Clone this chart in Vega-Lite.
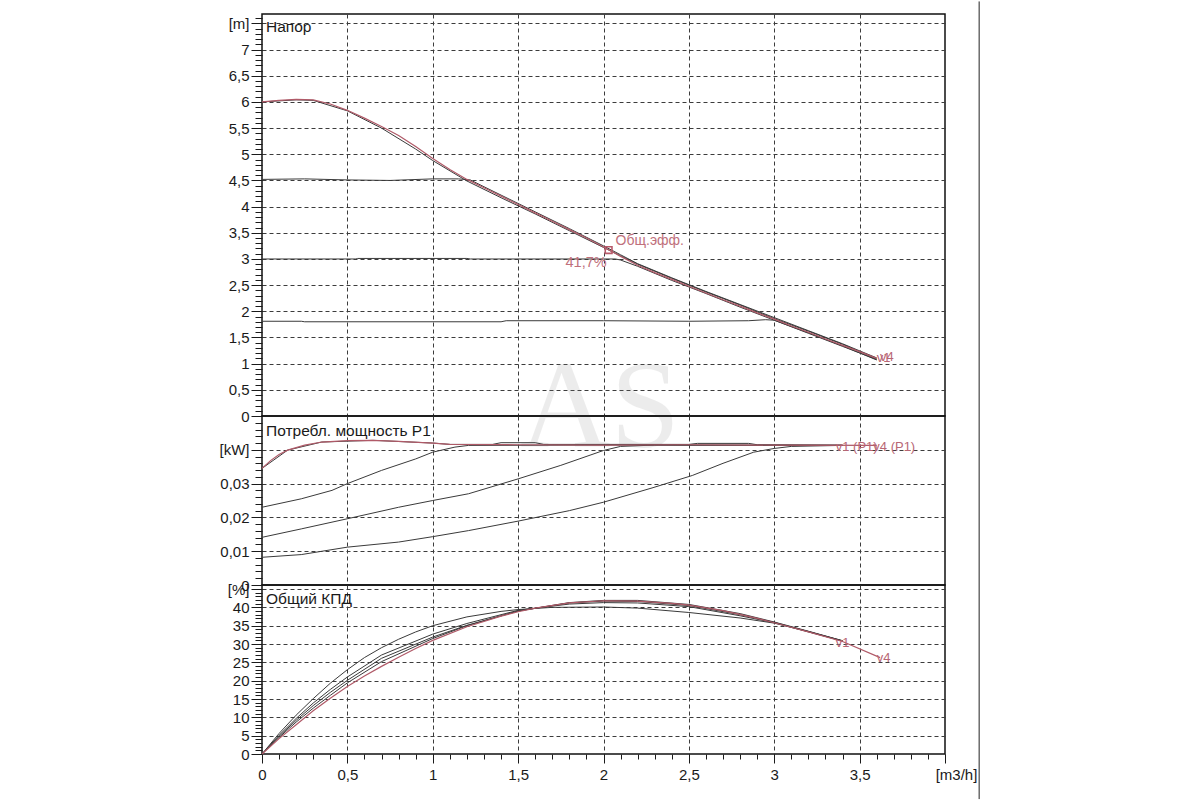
{
  "$schema": "https://vega.github.io/schema/vega-lite/v6.json",
  "padding": {"left": 218, "top": 0, "right": 5, "bottom": 0},
  "background": "white",
  "config": {
    "view": {"stroke": "#111", "strokeWidth": 1.5},
    "axis": {
      "labelFont": "Liberation Sans",
      "labelFontSize": 15,
      "labelColor": "#1a1a1a",
      "tickColor": "#1a1a1a",
      "tickWidth": 1,
      "domain": false,
      "labelOverlap": false,
      "labelFlush": false,
      "gridColor": "#3c3c3c",
      "gridDash": [4, 3],
      "gridWidth": 1
    },
    "text": {"font": "Liberation Sans"}
  },
  "datasets": {
    "head": [
      {"s": "v4", "q": 0, "v": 6.0}, {"s": "v4", "q": 0.1, "v": 6.03}, {"s": "v4", "q": 0.2, "v": 6.05}, {"s": "v4", "q": 0.3, "v": 6.04},
      {"s": "v4", "q": 0.4, "v": 5.96}, {"s": "v4", "q": 0.5, "v": 5.84}, {"s": "v4", "q": 0.6, "v": 5.69}, {"s": "v4", "q": 0.7, "v": 5.53},
      {"s": "v4", "q": 0.8, "v": 5.36}, {"s": "v4", "q": 0.9, "v": 5.15}, {"s": "v4", "q": 1.0, "v": 4.92}, {"s": "v4", "q": 1.1, "v": 4.71},
      {"s": "v4", "q": 1.2, "v": 4.52}, {"s": "v4", "q": 1.3, "v": 4.36}, {"s": "v4", "q": 1.4, "v": 4.2}, {"s": "v4", "q": 1.5, "v": 4.04},
      {"s": "v4", "q": 1.6, "v": 3.88}, {"s": "v4", "q": 1.7, "v": 3.72}, {"s": "v4", "q": 1.8, "v": 3.56}, {"s": "v4", "q": 1.9, "v": 3.4},
      {"s": "v4", "q": 2.0, "v": 3.23}, {"s": "v4", "q": 2.1, "v": 3.05}, {"s": "v4", "q": 2.2, "v": 2.88}, {"s": "v4", "q": 2.3, "v": 2.74},
      {"s": "v4", "q": 2.4, "v": 2.61}, {"s": "v4", "q": 2.5, "v": 2.48}, {"s": "v4", "q": 2.6, "v": 2.35}, {"s": "v4", "q": 2.7, "v": 2.22},
      {"s": "v4", "q": 2.8, "v": 2.1}, {"s": "v4", "q": 2.9, "v": 1.97}, {"s": "v4", "q": 3.0, "v": 1.85}, {"s": "v4", "q": 3.1, "v": 1.72},
      {"s": "v4", "q": 3.2, "v": 1.6}, {"s": "v4", "q": 3.3, "v": 1.47}, {"s": "v4", "q": 3.4, "v": 1.35}, {"s": "v4", "q": 3.5, "v": 1.23},
      {"s": "v4", "q": 3.6, "v": 1.1},
      {"s": "v1", "q": 0, "v": 6.0}, {"s": "v1", "q": 0.2, "v": 6.04}, {"s": "v1", "q": 0.3, "v": 6.03}, {"s": "v1", "q": 0.5, "v": 5.83},
      {"s": "v1", "q": 0.7, "v": 5.5}, {"s": "v1", "q": 0.9, "v": 5.1}, {"s": "v1", "q": 1.0, "v": 4.88}, {"s": "v1", "q": 1.2, "v": 4.49},
      {"s": "v1", "q": 1.4, "v": 4.17}, {"s": "v1", "q": 1.6, "v": 3.86}, {"s": "v1", "q": 1.8, "v": 3.54}, {"s": "v1", "q": 2.0, "v": 3.22},
      {"s": "v1", "q": 2.1, "v": 3.06}, {"s": "v1", "q": 2.2, "v": 2.9}, {"s": "v1", "q": 2.4, "v": 2.63}, {"s": "v1", "q": 2.6, "v": 2.37},
      {"s": "v1", "q": 2.8, "v": 2.12}, {"s": "v1", "q": 3.0, "v": 1.86}, {"s": "v1", "q": 3.2, "v": 1.62}, {"s": "v1", "q": 3.4, "v": 1.37},
      {"s": "v1", "q": 3.6, "v": 1.09},
      {"s": "c45", "q": 0, "v": 4.52}, {"s": "c45", "q": 0.25, "v": 4.53}, {"s": "c45", "q": 0.5, "v": 4.51}, {"s": "c45", "q": 0.75, "v": 4.5},
      {"s": "c45", "q": 1.0, "v": 4.53}, {"s": "c45", "q": 1.15, "v": 4.53}, {"s": "c45", "q": 1.22, "v": 4.51}, {"s": "c45", "q": 1.3, "v": 4.38},
      {"s": "c45", "q": 1.4, "v": 4.22}, {"s": "c45", "q": 1.5, "v": 4.06}, {"s": "c45", "q": 1.6, "v": 3.9}, {"s": "c45", "q": 1.8, "v": 3.58},
      {"s": "c45", "q": 2.0, "v": 3.25}, {"s": "c45", "q": 2.1, "v": 3.08}, {"s": "c45", "q": 2.2, "v": 2.91}, {"s": "c45", "q": 2.4, "v": 2.64},
      {"s": "c45", "q": 2.6, "v": 2.38}, {"s": "c45", "q": 2.8, "v": 2.13}, {"s": "c45", "q": 3.0, "v": 1.88}, {"s": "c45", "q": 3.2, "v": 1.63},
      {"s": "c45", "q": 3.4, "v": 1.38}, {"s": "c45", "q": 3.6, "v": 1.11},
      {"s": "c30", "q": 0, "v": 3.0}, {"s": "c30", "q": 0.55, "v": 3.0}, {"s": "c30", "q": 0.56, "v": 3.01}, {"s": "c30", "q": 1.2, "v": 3.01},
      {"s": "c30", "q": 1.22, "v": 3.0}, {"s": "c30", "q": 1.8, "v": 3.0}, {"s": "c30", "q": 2.07, "v": 3.0}, {"s": "c30", "q": 2.1, "v": 2.98},
      {"s": "c30", "q": 2.2, "v": 2.86}, {"s": "c30", "q": 2.4, "v": 2.59}, {"s": "c30", "q": 2.6, "v": 2.34}, {"s": "c30", "q": 2.8, "v": 2.08},
      {"s": "c30", "q": 3.0, "v": 1.83}, {"s": "c30", "q": 3.2, "v": 1.58}, {"s": "c30", "q": 3.4, "v": 1.33}, {"s": "c30", "q": 3.6, "v": 1.08},
      {"s": "c18", "q": 0, "v": 1.81}, {"s": "c18", "q": 0.23, "v": 1.81}, {"s": "c18", "q": 0.25, "v": 1.8}, {"s": "c18", "q": 1.4, "v": 1.8},
      {"s": "c18", "q": 1.43, "v": 1.82}, {"s": "c18", "q": 2.0, "v": 1.82}, {"s": "c18", "q": 2.5, "v": 1.81}, {"s": "c18", "q": 2.85, "v": 1.82},
      {"s": "c18", "q": 2.95, "v": 1.84}, {"s": "c18", "q": 3.0, "v": 1.83}, {"s": "c18", "q": 3.2, "v": 1.59}, {"s": "c18", "q": 3.4, "v": 1.34},
      {"s": "c18", "q": 3.6, "v": 1.07}
    ],
    "power": [
      {"s": "v4", "q": 0, "v": 0.0345}, {"s": "v4", "q": 0.05, "v": 0.0368}, {"s": "v4", "q": 0.1, "v": 0.0386}, {"s": "v4", "q": 0.15, "v": 0.0399},
      {"s": "v4", "q": 0.25, "v": 0.0414}, {"s": "v4", "q": 0.35, "v": 0.0423}, {"s": "v4", "q": 0.5, "v": 0.0427}, {"s": "v4", "q": 0.65, "v": 0.0428},
      {"s": "v4", "q": 0.8, "v": 0.0425}, {"s": "v4", "q": 1.0, "v": 0.042}, {"s": "v4", "q": 1.1, "v": 0.0416}, {"s": "v4", "q": 1.5, "v": 0.0415},
      {"s": "v4", "q": 2.0, "v": 0.0414}, {"s": "v4", "q": 2.5, "v": 0.0415}, {"s": "v4", "q": 3.0, "v": 0.0414}, {"s": "v4", "q": 3.6, "v": 0.0413},
      {"s": "v1", "q": 0, "v": 0.0345}, {"s": "v1", "q": 0.15, "v": 0.0399}, {"s": "v1", "q": 0.35, "v": 0.0423}, {"s": "v1", "q": 0.65, "v": 0.0428},
      {"s": "v1", "q": 1.0, "v": 0.042}, {"s": "v1", "q": 1.1, "v": 0.0416}, {"s": "v1", "q": 1.35, "v": 0.0416}, {"s": "v1", "q": 1.4, "v": 0.0421},
      {"s": "v1", "q": 1.6, "v": 0.0421}, {"s": "v1", "q": 1.65, "v": 0.0416}, {"s": "v1", "q": 2.5, "v": 0.0416}, {"s": "v1", "q": 2.55, "v": 0.0419},
      {"s": "v1", "q": 2.85, "v": 0.0419}, {"s": "v1", "q": 2.9, "v": 0.0415}, {"s": "v1", "q": 3.4, "v": 0.0414},
      {"s": "c45", "q": 0, "v": 0.023}, {"s": "c45", "q": 0.23, "v": 0.0255}, {"s": "c45", "q": 0.41, "v": 0.028}, {"s": "c45", "q": 0.5, "v": 0.03},
      {"s": "c45", "q": 0.7, "v": 0.0339}, {"s": "c45", "q": 0.9, "v": 0.0373}, {"s": "c45", "q": 1.0, "v": 0.0393}, {"s": "c45", "q": 1.13, "v": 0.0408},
      {"s": "c45", "q": 1.21, "v": 0.0413}, {"s": "c45", "q": 2.0, "v": 0.0414}, {"s": "c45", "q": 3.4, "v": 0.0413},
      {"s": "c30", "q": 0, "v": 0.0141}, {"s": "c30", "q": 0.23, "v": 0.0166}, {"s": "c30", "q": 0.5, "v": 0.0196}, {"s": "c30", "q": 0.8, "v": 0.023},
      {"s": "c30", "q": 1.0, "v": 0.025}, {"s": "c30", "q": 1.21, "v": 0.027}, {"s": "c30", "q": 1.5, "v": 0.0314}, {"s": "c30", "q": 1.75, "v": 0.0354},
      {"s": "c30", "q": 2.0, "v": 0.0398}, {"s": "c30", "q": 2.1, "v": 0.041}, {"s": "c30", "q": 2.3, "v": 0.0414}, {"s": "c30", "q": 3.4, "v": 0.0413},
      {"s": "c18", "q": 0, "v": 0.0082}, {"s": "c18", "q": 0.23, "v": 0.009}, {"s": "c18", "q": 0.5, "v": 0.0112}, {"s": "c18", "q": 0.8, "v": 0.0127},
      {"s": "c18", "q": 1.0, "v": 0.0143}, {"s": "c18", "q": 1.21, "v": 0.0161}, {"s": "c18", "q": 1.5, "v": 0.0189}, {"s": "c18", "q": 1.8, "v": 0.022},
      {"s": "c18", "q": 2.0, "v": 0.0245}, {"s": "c18", "q": 2.29, "v": 0.0288}, {"s": "c18", "q": 2.52, "v": 0.0324}, {"s": "c18", "q": 2.7, "v": 0.036},
      {"s": "c18", "q": 2.88, "v": 0.0393}, {"s": "c18", "q": 3.0, "v": 0.0404}, {"s": "c18", "q": 3.1, "v": 0.041}, {"s": "c18", "q": 3.4, "v": 0.0413}
    ],
    "eff": [
      {"s": "v4", "q": 0, "v": 0}, {"s": "v4", "q": 0.1, "v": 4.2}, {"s": "v4", "q": 0.2, "v": 8.0}, {"s": "v4", "q": 0.3, "v": 11.8},
      {"s": "v4", "q": 0.4, "v": 15.2}, {"s": "v4", "q": 0.5, "v": 18.4}, {"s": "v4", "q": 0.6, "v": 21.3}, {"s": "v4", "q": 0.7, "v": 23.9},
      {"s": "v4", "q": 0.8, "v": 26.4}, {"s": "v4", "q": 0.9, "v": 28.8}, {"s": "v4", "q": 1.0, "v": 31.0}, {"s": "v4", "q": 1.2, "v": 34.7},
      {"s": "v4", "q": 1.4, "v": 37.6}, {"s": "v4", "q": 1.5, "v": 38.8}, {"s": "v4", "q": 1.6, "v": 39.8}, {"s": "v4", "q": 1.8, "v": 41.2},
      {"s": "v4", "q": 2.0, "v": 41.8}, {"s": "v4", "q": 2.2, "v": 41.7}, {"s": "v4", "q": 2.4, "v": 41.1}, {"s": "v4", "q": 2.5, "v": 40.6},
      {"s": "v4", "q": 2.7, "v": 39.1}, {"s": "v4", "q": 2.9, "v": 37.0}, {"s": "v4", "q": 3.0, "v": 35.8}, {"s": "v4", "q": 3.2, "v": 33.3},
      {"s": "v4", "q": 3.4, "v": 30.7}, {"s": "v4", "q": 3.62, "v": 26.3},
      {"s": "v1", "q": 0, "v": 0}, {"s": "v1", "q": 0.1, "v": 4.5}, {"s": "v1", "q": 0.2, "v": 8.7}, {"s": "v1", "q": 0.3, "v": 12.5},
      {"s": "v1", "q": 0.4, "v": 16.0}, {"s": "v1", "q": 0.5, "v": 19.4}, {"s": "v1", "q": 0.7, "v": 25.2}, {"s": "v1", "q": 1.0, "v": 31.5},
      {"s": "v1", "q": 1.2, "v": 35.0}, {"s": "v1", "q": 1.5, "v": 39.0}, {"s": "v1", "q": 1.8, "v": 41.3}, {"s": "v1", "q": 2.0, "v": 41.9},
      {"s": "v1", "q": 2.2, "v": 41.9}, {"s": "v1", "q": 2.5, "v": 40.8}, {"s": "v1", "q": 2.8, "v": 38.3}, {"s": "v1", "q": 3.0, "v": 36.0},
      {"s": "v1", "q": 3.2, "v": 33.5}, {"s": "v1", "q": 3.4, "v": 30.9},
      {"s": "c45", "q": 0, "v": 0}, {"s": "c45", "q": 0.1, "v": 4.8}, {"s": "c45", "q": 0.2, "v": 9.2}, {"s": "c45", "q": 0.3, "v": 13.2},
      {"s": "c45", "q": 0.4, "v": 16.8}, {"s": "c45", "q": 0.5, "v": 20.1}, {"s": "c45", "q": 0.7, "v": 26.1}, {"s": "c45", "q": 1.0, "v": 31.9},
      {"s": "c45", "q": 1.2, "v": 35.1}, {"s": "c45", "q": 1.5, "v": 39.0}, {"s": "c45", "q": 1.8, "v": 41.2}, {"s": "c45", "q": 2.0, "v": 41.7},
      {"s": "c45", "q": 2.2, "v": 41.6}, {"s": "c45", "q": 2.5, "v": 40.5}, {"s": "c45", "q": 2.8, "v": 38.0}, {"s": "c45", "q": 3.0, "v": 35.9},
      {"s": "c45", "q": 3.4, "v": 30.9},
      {"s": "c30", "q": 0, "v": 0}, {"s": "c30", "q": 0.1, "v": 5.1}, {"s": "c30", "q": 0.2, "v": 9.7}, {"s": "c30", "q": 0.3, "v": 13.9},
      {"s": "c30", "q": 0.4, "v": 17.6}, {"s": "c30", "q": 0.5, "v": 21.0}, {"s": "c30", "q": 0.7, "v": 27.0}, {"s": "c30", "q": 1.0, "v": 32.7},
      {"s": "c30", "q": 1.2, "v": 35.6}, {"s": "c30", "q": 1.5, "v": 39.2}, {"s": "c30", "q": 1.8, "v": 40.9}, {"s": "c30", "q": 2.0, "v": 41.3},
      {"s": "c30", "q": 2.2, "v": 41.2}, {"s": "c30", "q": 2.5, "v": 40.2}, {"s": "c30", "q": 2.8, "v": 37.7}, {"s": "c30", "q": 3.0, "v": 35.8},
      {"s": "c30", "q": 3.4, "v": 30.8},
      {"s": "c18", "q": 0, "v": 0}, {"s": "c18", "q": 0.1, "v": 5.6}, {"s": "c18", "q": 0.2, "v": 10.6}, {"s": "c18", "q": 0.3, "v": 15.1},
      {"s": "c18", "q": 0.4, "v": 19.3}, {"s": "c18", "q": 0.5, "v": 23.0}, {"s": "c18", "q": 0.6, "v": 26.3}, {"s": "c18", "q": 0.7, "v": 29.0},
      {"s": "c18", "q": 0.8, "v": 31.3}, {"s": "c18", "q": 0.9, "v": 33.3}, {"s": "c18", "q": 1.0, "v": 35.0}, {"s": "c18", "q": 1.2, "v": 37.4},
      {"s": "c18", "q": 1.4, "v": 38.9}, {"s": "c18", "q": 1.5, "v": 39.4}, {"s": "c18", "q": 1.7, "v": 40.0}, {"s": "c18", "q": 2.0, "v": 40.1},
      {"s": "c18", "q": 2.2, "v": 39.8}, {"s": "c18", "q": 2.5, "v": 38.6}, {"s": "c18", "q": 2.8, "v": 37.1}, {"s": "c18", "q": 3.0, "v": 35.7},
      {"s": "c18", "q": 3.2, "v": 33.4}, {"s": "c18", "q": 3.4, "v": 30.8}
    ],
    "labels": [
      {"p": "H", "q": 3.6, "v": 1.1, "t": "v1"},
      {"p": "H", "q": 3.62, "v": 1.12, "t": "v4"},
      {"p": "P", "q": 3.36, "v": 0.0409, "t": "v1 (P1)"},
      {"p": "P", "q": 3.58, "v": 0.0409, "t": "v4 (P1)"},
      {"p": "E", "q": 3.36, "v": 30.4, "t": "v1"},
      {"p": "E", "q": 3.6, "v": 26.3, "t": "v4"}
    ]
  },
  "vconcat": [
    {
      "width": 683,
      "height": 402,
      "resolve": {"axis": {"x": "independent", "y": "independent"}},
      "layer": [
        {
          "data": {"values": [{}]},
          "mark": {"type": "text", "text": "AS", "font": "Liberation Serif", "fontSize": 125, "color": "#888", "opacity": 0.15, "align": "center", "baseline": "alphabetic"},
          "encoding": {
            "x": {"datum": 1.98, "type": "quantitative", "scale": {"domain": [0, 4], "nice": false, "zero": false}, "axis": null},
            "y": {"datum": -0.6, "type": "quantitative", "scale": {"domain": [0, 7.68], "nice": false, "zero": false}, "axis": null}
          }
        },
        {
          "data": {"values": [{}]},
          "mark": {"type": "text", "text": "Напор", "align": "left", "baseline": "middle", "dx": 4, "dy": 13, "fontSize": 15.5, "color": "#1a1a1a"},
          "encoding": {
            "x": {"datum": 0, "type": "quantitative", "scale": {"domain": [0, 4], "nice": false, "zero": false}, "axis": null},
            "y": {"datum": 7.68, "type": "quantitative", "scale": {"domain": [0, 7.68], "nice": false, "zero": false},
              "axis": {"orient": "left", "title": null, "labels": false, "grid": false, "tickSize": 7,
                "values": [0,0.1,0.2,0.3,0.4,0.5,0.6,0.7,0.8,0.9,1,1.1,1.2,1.3,1.4,1.5,1.6,1.7,1.8,1.9,2,2.1,2.2,2.3,2.4,2.5,2.6,2.7,2.8,2.9,3,3.1,3.2,3.3,3.4,3.5,3.6,3.7,3.8,3.9,4,4.1,4.2,4.3,4.4,4.5,4.6,4.7,4.8,4.9,5,5.1,5.2,5.3,5.4,5.5,5.6,5.7,5.8,5.9,6,6.1,6.2,6.3,6.4,6.5,6.6,6.7,6.8,6.9,7,7.1,7.2,7.3,7.4,7.5,7.6]}}
          }
        },
        {
          "data": {"name": "head"},
          "transform": [{"filter": "datum.s != 'v4'"}],
          "mark": {"type": "line", "color": "#3a3a3a", "strokeWidth": 1},
          "encoding": {
            "x": {"field": "q", "type": "quantitative", "scale": {"domain": [0, 4], "nice": false, "zero": false},
              "axis": {"orient": "bottom", "title": null, "labels": false, "ticks": false, "grid": true, "values": [0.5, 1, 1.5, 2, 2.5, 3, 3.5]}},
            "y": {"field": "v", "type": "quantitative", "scale": {"domain": [0, 7.68], "nice": false, "zero": false},
              "axis": {"orient": "left", "title": null, "tickSize": 11, "labelPadding": 2, "grid": true,
                "gridOpacity": {"condition": {"test": "datum.value == 0", "value": 0}, "value": 1},
                "values": [0, 0.5, 1, 1.5, 2, 2.5, 3, 3.5, 4, 4.5, 5, 5.5, 6, 6.5, 7, 7.5],
                "labelExpr": "datum.value == 7.5 ? '[m]' : replace(format(datum.value, '.1~f'), '.', ',')"}},
            "detail": {"field": "s"}
          }
        },
        {
          "data": {"name": "head"},
          "transform": [{"filter": "datum.s == 'v4'"}],
          "mark": {"type": "line", "color": "#b05a68", "strokeWidth": 1.2},
          "encoding": {
            "x": {"field": "q", "type": "quantitative", "scale": {"domain": [0, 4], "nice": false, "zero": false}, "axis": null},
            "y": {"field": "v", "type": "quantitative", "scale": {"domain": [0, 7.68], "nice": false, "zero": false}, "axis": null}
          }
        },
        {
          "data": {"values": [{"q": 2.03, "v": 3.17}]},
          "layer": [
            {"mark": {"type": "point", "shape": "square", "filled": false, "size": 45, "color": "#b85a6a", "strokeWidth": 1.6, "opacity": 1}},
            {"mark": {"type": "text", "text": "Общ.эфф.", "align": "left", "baseline": "middle", "dx": 7, "dy": -9, "fontSize": 14, "color": "#c0707c"}},
            {"mark": {"type": "text", "text": "41,7%", "align": "right", "baseline": "middle", "dx": -2, "dy": 13, "fontSize": 14.5, "color": "#c0707c"}}
          ],
          "encoding": {
            "x": {"field": "q", "type": "quantitative", "scale": {"domain": [0, 4], "nice": false, "zero": false}, "axis": null},
            "y": {"field": "v", "type": "quantitative", "scale": {"domain": [0, 7.68], "nice": false, "zero": false}, "axis": null}
          }
        },
        {
          "data": {"name": "labels"},
          "transform": [{"filter": "datum.p == 'H'"}],
          "mark": {"type": "text", "align": "left", "baseline": "middle", "fontSize": 13, "color": "#b86674"},
          "encoding": {
            "x": {"field": "q", "type": "quantitative", "scale": {"domain": [0, 4], "nice": false, "zero": false}, "axis": null},
            "y": {"field": "v", "type": "quantitative", "scale": {"domain": [0, 7.68], "nice": false, "zero": false}, "axis": null},
            "text": {"field": "t"}
          }
        },
        {
          "data": {"values": [{}]},
          "mark": {"type": "rule", "color": "#222", "strokeWidth": 1},
          "encoding": {
            "x": {"datum": 4.2, "type": "quantitative", "scale": {"domain": [0, 4], "nice": false, "zero": false}, "axis": null},
            "y": {"datum": 7.92, "type": "quantitative", "scale": {"domain": [0, 7.68], "nice": false, "zero": false}, "axis": null},
            "y2": {"datum": 0}
          }
        }
      ]
    },
    {
      "width": 683,
      "height": 169,
      "resolve": {"axis": {"x": "independent", "y": "independent"}},
      "layer": [
        {
          "data": {"values": [{}]},
          "mark": {"type": "text", "text": "Потребл. мощность P1", "align": "left", "baseline": "middle", "dx": 4, "dy": 15, "fontSize": 15.5, "color": "#1a1a1a"},
          "encoding": {
            "x": {"datum": 0, "type": "quantitative", "scale": {"domain": [0, 4], "nice": false, "zero": false}, "axis": null},
            "y": {"datum": 0.05, "type": "quantitative", "scale": {"domain": [0, 0.05], "nice": false, "zero": false},
              "axis": {"orient": "left", "title": null, "labels": false, "grid": false, "tickSize": 7,
                "values": [0,0.002,0.004,0.006,0.008,0.01,0.012,0.014,0.016,0.018,0.02,0.022,0.024,0.026,0.028,0.03,0.032,0.034,0.036,0.038,0.04,0.042,0.044,0.046,0.048]}}
          }
        },
        {
          "data": {"name": "power"},
          "transform": [{"filter": "datum.s != 'v4'"}],
          "mark": {"type": "line", "color": "#3a3a3a", "strokeWidth": 1},
          "encoding": {
            "x": {"field": "q", "type": "quantitative", "scale": {"domain": [0, 4], "nice": false, "zero": false},
              "axis": {"orient": "bottom", "title": null, "labels": false, "ticks": false, "grid": true, "values": [0.5, 1, 1.5, 2, 2.5, 3, 3.5]}},
            "y": {"field": "v", "type": "quantitative", "scale": {"domain": [0, 0.05], "nice": false, "zero": false},
              "axis": {"orient": "left", "title": null, "tickSize": 11, "labelPadding": 2, "grid": true,
                "gridOpacity": {"condition": {"test": "datum.value == 0", "value": 0}, "value": 1},
                "values": [0, 0.01, 0.02, 0.03, 0.04],
                "labelExpr": "datum.value == 0.04 ? '[kW]' : replace(format(datum.value, '.2~f'), '.', ',')"}},
            "detail": {"field": "s"}
          }
        },
        {
          "data": {"name": "power"},
          "transform": [{"filter": "datum.s == 'v4'"}],
          "mark": {"type": "line", "color": "#b05a68", "strokeWidth": 1.2},
          "encoding": {
            "x": {"field": "q", "type": "quantitative", "scale": {"domain": [0, 4], "nice": false, "zero": false}, "axis": null},
            "y": {"field": "v", "type": "quantitative", "scale": {"domain": [0, 0.05], "nice": false, "zero": false}, "axis": null}
          }
        },
        {
          "data": {"name": "labels"},
          "transform": [{"filter": "datum.p == 'P'"}],
          "mark": {"type": "text", "align": "left", "baseline": "middle", "fontSize": 13, "color": "#b86674"},
          "encoding": {
            "x": {"field": "q", "type": "quantitative", "scale": {"domain": [0, 4], "nice": false, "zero": false}, "axis": null},
            "y": {"field": "v", "type": "quantitative", "scale": {"domain": [0, 0.05], "nice": false, "zero": false}, "axis": null},
            "text": {"field": "t"}
          }
        },
        {
          "data": {"values": [{}]},
          "mark": {"type": "rule", "color": "#222", "strokeWidth": 1},
          "encoding": {
            "x": {"datum": 4.2, "type": "quantitative", "scale": {"domain": [0, 4], "nice": false, "zero": false}, "axis": null},
            "y": {"datum": 0.05, "type": "quantitative", "scale": {"domain": [0, 0.05], "nice": false, "zero": false}, "axis": null},
            "y2": {"datum": 0}
          }
        }
      ]
    },
    {
      "width": 683,
      "height": 169,
      "resolve": {"axis": {"x": "independent", "y": "independent"}},
      "layer": [
        {
          "data": {"values": [{}]},
          "mark": {"type": "text", "text": "Общий КПД", "align": "left", "baseline": "middle", "dx": 4, "dy": 14, "fontSize": 15.5, "color": "#1a1a1a"},
          "encoding": {
            "x": {"datum": 0, "type": "quantitative", "scale": {"domain": [0, 4], "nice": false, "zero": false},
              "axis": {"orient": "bottom", "title": null, "labels": false, "grid": false, "tickSize": 5,
                "values": [0,0.1,0.2,0.3,0.4,0.5,0.6,0.7,0.8,0.9,1,1.1,1.2,1.3,1.4,1.5,1.6,1.7,1.8,1.9,2,2.1,2.2,2.3,2.4,2.5,2.6,2.7,2.8,2.9,3,3.1,3.2,3.3,3.4,3.5,3.6,3.7,3.8,3.9,4]}},
            "y": {"datum": 46.1, "type": "quantitative", "scale": {"domain": [0, 46.1], "nice": false, "zero": false},
              "axis": {"orient": "left", "title": null, "labels": false, "grid": false, "tickSize": 7,
                "values": [0,1,2,3,4,5,6,7,8,9,10,11,12,13,14,15,16,17,18,19,20,21,22,23,24,25,26,27,28,29,30,31,32,33,34,35,36,37,38,39,40,41,42,43,44,45,46]}}
          }
        },
        {
          "data": {"name": "eff"},
          "transform": [{"filter": "datum.s != 'v4'"}],
          "mark": {"type": "line", "color": "#3a3a3a", "strokeWidth": 1},
          "encoding": {
            "x": {"field": "q", "type": "quantitative", "scale": {"domain": [0, 4], "nice": false, "zero": false},
              "axis": {"orient": "bottom", "title": null, "tickSize": 9, "labelPadding": 4, "grid": true,
                "gridOpacity": {"condition": {"test": "datum.value == 0 || datum.value == 4", "value": 0}, "value": 1},
                "labelOffset": {"condition": {"test": "datum.value == 4", "value": 11}, "value": 0},
                "values": [0, 0.5, 1, 1.5, 2, 2.5, 3, 3.5, 4],
                "labelExpr": "datum.value == 4 ? '[m3/h]' : replace(format(datum.value, '.1~f'), '.', ',')"}},
            "y": {"field": "v", "type": "quantitative", "scale": {"domain": [0, 46.1], "nice": false, "zero": false},
              "axis": {"orient": "left", "title": null, "tickSize": 11, "labelPadding": 2, "grid": true,
                "gridOpacity": {"condition": {"test": "datum.value == 0", "value": 0}, "value": 1},
                "values": [0, 5, 10, 15, 20, 25, 30, 35, 40, 45],
                "labelExpr": "datum.value == 45 ? '[%]' : format(datum.value, 'd')"}},
            "detail": {"field": "s"}
          }
        },
        {
          "data": {"name": "eff"},
          "transform": [{"filter": "datum.s == 'v4'"}],
          "mark": {"type": "line", "color": "#b05a68", "strokeWidth": 1.2},
          "encoding": {
            "x": {"field": "q", "type": "quantitative", "scale": {"domain": [0, 4], "nice": false, "zero": false}, "axis": null},
            "y": {"field": "v", "type": "quantitative", "scale": {"domain": [0, 46.1], "nice": false, "zero": false}, "axis": null}
          }
        },
        {
          "data": {"name": "labels"},
          "transform": [{"filter": "datum.p == 'E'"}],
          "mark": {"type": "text", "align": "left", "baseline": "middle", "fontSize": 13, "color": "#b86674"},
          "encoding": {
            "x": {"field": "q", "type": "quantitative", "scale": {"domain": [0, 4], "nice": false, "zero": false}, "axis": null},
            "y": {"field": "v", "type": "quantitative", "scale": {"domain": [0, 46.1], "nice": false, "zero": false}, "axis": null},
            "text": {"field": "t"}
          }
        },
        {
          "data": {"values": [{}]},
          "mark": {"type": "rule", "color": "#222", "strokeWidth": 1},
          "encoding": {
            "x": {"datum": 4.2, "type": "quantitative", "scale": {"domain": [0, 4], "nice": false, "zero": false}, "axis": null},
            "y": {"datum": 46.1, "type": "quantitative", "scale": {"domain": [0, 46.1], "nice": false, "zero": false}, "axis": null},
            "y2": {"datum": -12.3}
          }
        }
      ]
    }
  ],
  "spacing": 0,
  "bounds": "flush"
}
